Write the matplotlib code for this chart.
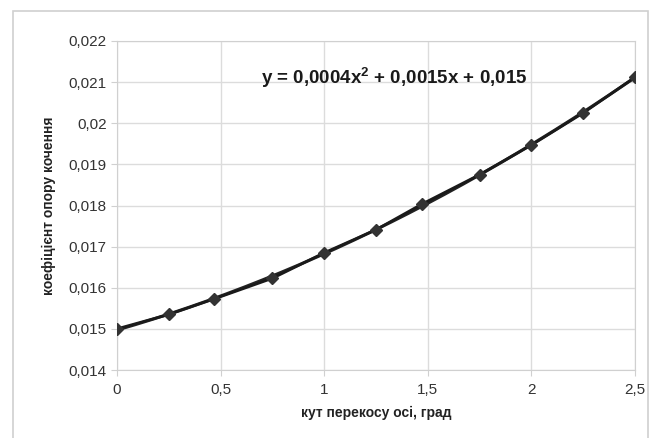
import matplotlib
matplotlib.use("Agg")
import matplotlib.pyplot as plt
import numpy as np
from matplotlib.patches import Rectangle
from matplotlib.ticker import FuncFormatter

plt.rcParams['font.family'] = ['Liberation Sans', 'DejaVu Sans']
plt.rcParams['mathtext.fontset'] = 'custom'
plt.rcParams['mathtext.bf'] = 'Liberation Sans:bold'
plt.rcParams['mathtext.rm'] = 'Liberation Sans'

x_vals = [0, 0.25, 0.47, 0.75, 1.0, 1.25, 1.47, 1.75, 2.0, 2.25, 2.5]
y_vals = [0.0150, 0.01535, 0.01573, 0.01623, 0.01685, 0.01741, 0.01803, 0.01875, 0.01947, 0.02025, 0.02112]
x_ticks = [0, 0.5, 1, 1.5, 2, 2.5]
y_ticks = [0.014, 0.015, 0.016, 0.017, 0.018, 0.019, 0.020, 0.021, 0.022]
equation = r"y = 0,0004x$^{\mathbf{2}}$ + 0,0015x + 0,015"
x_label = "кут перекосу осі, град"
y_label = "коефіцієнт опору кочення"

fig = plt.figure(figsize=(6.49, 4.38), dpi=100)
fig.patches.append(Rectangle((13/649, -0.05), (648-13)/649, 1 - 11/438 + 0.05,
                             transform=fig.transFigure, fill=False,
                             edgecolor='#d0d0d0', linewidth=1.2))
ax = fig.add_axes([117/649, 1-370/438, (635-117)/649, (370-41)/438])

coef = np.polyfit(x_vals, y_vals, 2)
xs = np.linspace(0, 2.5, 200)
ax.plot(xs, np.polyval(coef, xs), color='#222222', linewidth=2.2, zorder=3)
ax.plot(x_vals, y_vals, color='#1a1a1a', linewidth=2.0, marker='D', markersize=6,
        markerfacecolor='#333333', markeredgecolor='#333333', zorder=4)

ax.set_xlim(0, 2.5)
ax.set_ylim(0.014, 0.022)
ax.set_xticks(x_ticks)
ax.set_yticks(y_ticks)

def fmt(v, pos):
    s = f"{v:.3f}".rstrip('0').rstrip('.')
    return s.replace('.', ',')
ax.xaxis.set_major_formatter(FuncFormatter(lambda v, p: (f"{v:g}").replace('.', ',')))
ax.yaxis.set_major_formatter(FuncFormatter(fmt))

ax.grid(True, color='#dcdcdc', linewidth=1.0)
ax.set_axisbelow(True)
for s in ax.spines.values():
    s.set_color('#d0d0d0')
ax.tick_params(axis='both', colors='#d0d0d0', labelcolor='#333333', labelsize=11, length=4)
ax.tick_params(axis='x', pad=5)

ax.set_xlabel(x_label, fontsize=10, fontweight='bold', color='#222222', labelpad=7)
ax.set_ylabel(y_label, fontsize=10, fontweight='bold', color='#222222', labelpad=9)

ax.text(0.535, 0.89, equation, transform=ax.transAxes, ha='center', va='center',
        fontsize=13.5, fontweight='bold', color='#1a1a1a')

fig.savefig("out.png", dpi=100)
